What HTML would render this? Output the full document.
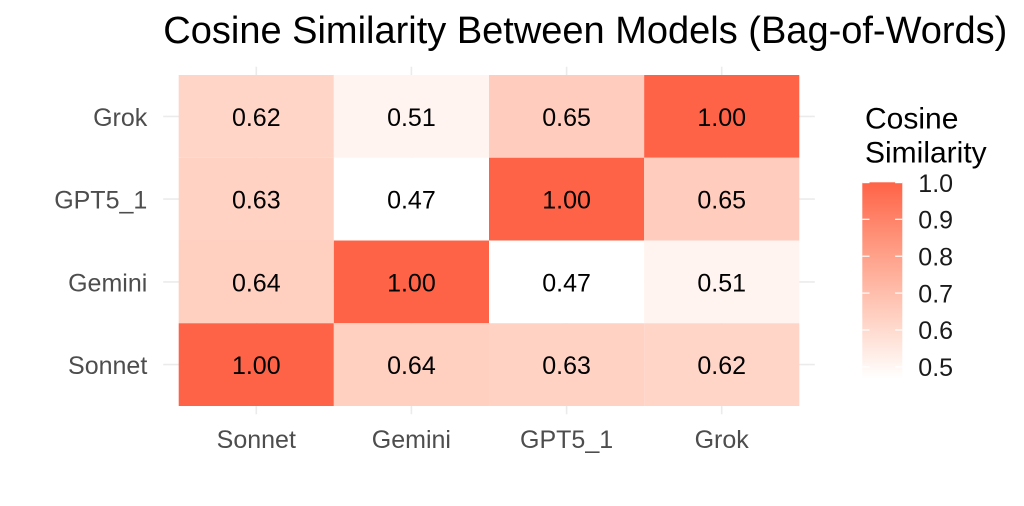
<!DOCTYPE html>
<html>
<head>
<meta charset="utf-8">
<style>
  html, body { margin:0; padding:0; background:#ffffff; }
  svg { display:block; }
  text { font-family: "Liberation Sans", Arial, sans-serif; }
</style>
</head>
<body>
<svg width="1024" height="506" viewBox="0 0 1024 506" xmlns="http://www.w3.org/2000/svg">
  <defs>
    <linearGradient id="cb" x1="0" y1="0" x2="0" y2="1">
      <stop offset="0" stop-color="rgb(255,99,71)"/>
      <stop offset="0.25" stop-color="rgb(255,141,115)"/>
      <stop offset="0.5" stop-color="rgb(255,180,160)"/>
      <stop offset="0.75" stop-color="rgb(255,218,206)"/>
      <stop offset="1" stop-color="rgb(255,255,255)"/>
    </linearGradient>
  </defs>
  <rect width="1024" height="506" fill="#ffffff"/>

  <!-- Title -->
  <text x="163.3" y="43" font-size="38" fill="#000">Cosine Similarity Between Models (Bag-of-Words)</text>

  <!-- grid lines -->
  <g stroke="#ebebeb" stroke-width="1.6">
    <line x1="256.3" y1="66.7" x2="256.3" y2="414.3"/>
    <line x1="411.4" y1="66.7" x2="411.4" y2="414.3"/>
    <line x1="566.6" y1="66.7" x2="566.6" y2="414.3"/>
    <line x1="721.7" y1="66.7" x2="721.7" y2="414.3"/>
    <line x1="163.2" y1="116.4" x2="814.8" y2="116.4"/>
    <line x1="163.2" y1="199.1" x2="814.8" y2="199.1"/>
    <line x1="163.2" y1="281.9" x2="814.8" y2="281.9"/>
    <line x1="163.2" y1="364.6" x2="814.8" y2="364.6"/>
  </g>

  <!-- tiles: row Grok (top) -->
  <g>
    <rect x="178.7" y="75" width="155.15" height="82.75" fill="rgb(255,213,200)"/>
    <rect x="333.85" y="75" width="155.15" height="82.75" fill="rgb(255,244,240)"/>
    <rect x="489" y="75" width="155.15" height="82.75" fill="rgb(255,204,189)"/>
    <rect x="644.15" y="75" width="155.15" height="82.75" fill="rgb(255,99,71)"/>
    <!-- GPT5_1 -->
    <rect x="178.7" y="157.75" width="155.15" height="82.75" fill="rgb(255,210,196)"/>
    <rect x="333.85" y="157.75" width="155.15" height="82.75" fill="rgb(255,255,255)"/>
    <rect x="489" y="157.75" width="155.15" height="82.75" fill="rgb(255,99,71)"/>
    <rect x="644.15" y="157.75" width="155.15" height="82.75" fill="rgb(255,204,189)"/>
    <!-- Gemini -->
    <rect x="178.7" y="240.5" width="155.15" height="82.75" fill="rgb(255,207,192)"/>
    <rect x="333.85" y="240.5" width="155.15" height="82.75" fill="rgb(255,99,71)"/>
    <rect x="489" y="240.5" width="155.15" height="82.75" fill="rgb(255,255,255)"/>
    <rect x="644.15" y="240.5" width="155.15" height="82.75" fill="rgb(255,244,240)"/>
    <!-- Sonnet -->
    <rect x="178.7" y="323.25" width="155.15" height="82.75" fill="rgb(255,99,71)"/>
    <rect x="333.85" y="323.25" width="155.15" height="82.75" fill="rgb(255,207,192)"/>
    <rect x="489" y="323.25" width="155.15" height="82.75" fill="rgb(255,210,196)"/>
    <rect x="644.15" y="323.25" width="155.15" height="82.75" fill="rgb(255,213,200)"/>
  </g>

  <!-- tile labels -->
  <g font-size="25" fill="#000" text-anchor="middle">
    <text x="256.3" y="126">0.62</text>
    <text x="411.4" y="126">0.51</text>
    <text x="566.6" y="126">0.65</text>
    <text x="721.7" y="126">1.00</text>

    <text x="256.3" y="208.7">0.63</text>
    <text x="411.4" y="208.7">0.47</text>
    <text x="566.6" y="208.7">1.00</text>
    <text x="721.7" y="208.7">0.65</text>

    <text x="256.3" y="291.5">0.64</text>
    <text x="411.4" y="291.5">1.00</text>
    <text x="566.6" y="291.5">0.47</text>
    <text x="721.7" y="291.5">0.51</text>

    <text x="256.3" y="374.2">1.00</text>
    <text x="411.4" y="374.2">0.64</text>
    <text x="566.6" y="374.2">0.63</text>
    <text x="721.7" y="374.2">0.62</text>
  </g>

  <!-- y axis labels -->
  <g font-size="25" fill="#4d4d4d" text-anchor="end">
    <text x="147.3" y="126">Grok</text>
    <text x="147.3" y="208.7">GPT5_1</text>
    <text x="147.3" y="291.5">Gemini</text>
    <text x="147.3" y="374.2">Sonnet</text>
  </g>

  <!-- x axis labels -->
  <g font-size="25" fill="#4d4d4d" text-anchor="middle">
    <text x="256.3" y="448">Sonnet</text>
    <text x="411.4" y="448">Gemini</text>
    <text x="566.6" y="448">GPT5_1</text>
    <text x="721.7" y="448">Grok</text>
  </g>

  <!-- legend -->
  <g font-size="30" fill="#000">
    <text x="865" y="128.3">Cosine</text>
    <text x="865" y="162.3">Similarity</text>
  </g>
  <rect x="862.3" y="182.3" width="40" height="196" fill="url(#cb)"/>
  <g stroke="#ffffff" stroke-width="1.2">
    <line x1="862.3" y1="182.6" x2="869.5" y2="182.6"/>
    <line x1="895.1" y1="182.6" x2="902.3" y2="182.6"/>
    <line x1="862.3" y1="219.3" x2="869.5" y2="219.3"/>
    <line x1="895.1" y1="219.3" x2="902.3" y2="219.3"/>
    <line x1="862.3" y1="256.2" x2="869.5" y2="256.2"/>
    <line x1="895.1" y1="256.2" x2="902.3" y2="256.2"/>
    <line x1="862.3" y1="293.1" x2="869.5" y2="293.1"/>
    <line x1="895.1" y1="293.1" x2="902.3" y2="293.1"/>
    <line x1="862.3" y1="330" x2="869.5" y2="330"/>
    <line x1="895.1" y1="330" x2="902.3" y2="330"/>
    <line x1="862.3" y1="366.9" x2="869.5" y2="366.9"/>
    <line x1="895.1" y1="366.9" x2="902.3" y2="366.9"/>
  </g>
  <g font-size="25" fill="#1a1a1a">
    <text x="918.3" y="191.8">1.0</text>
    <text x="918.3" y="228.5">0.9</text>
    <text x="918.3" y="265.4">0.8</text>
    <text x="918.3" y="302.3">0.7</text>
    <text x="918.3" y="339.2">0.6</text>
    <text x="918.3" y="376.1">0.5</text>
  </g>
</svg>
</body>
</html>
